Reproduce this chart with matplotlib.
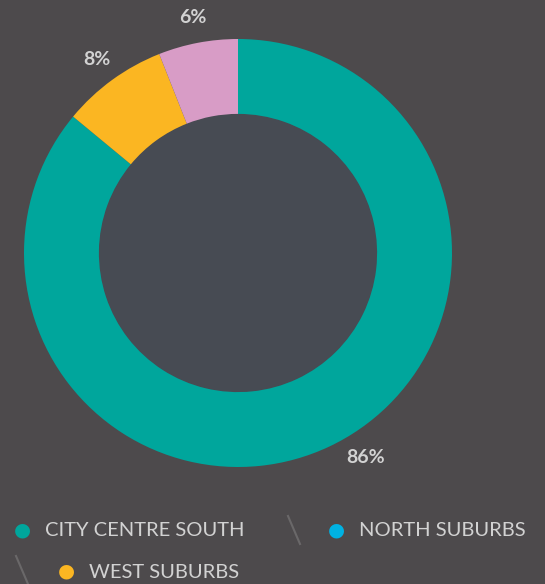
import matplotlib
matplotlib.use('Agg')
import matplotlib.pyplot as plt
from matplotlib.patches import Circle

# data
shares = [86, 8, 6]
slice_colors = ['#00a69c', '#fbb622', '#d89cc6']
legend_names = ['CITY CENTRE SOUTH', 'NORTH SUBURBS', 'WEST SUBURBS']
legend_colors = ['#00a69c', '#00b2e3', '#fbb622']

bg = '#4d4a4c'
inner = '#474b53'
txt = '#d2d2d2'

W, H = 545, 584
fig = plt.figure(figsize=(W / 100, H / 100), dpi=100, facecolor=bg)

# donut
cx, cy, r = 238, 253, 214
ax = fig.add_axes([(cx - r) / W, (H - cy - r) / H, 2 * r / W, 2 * r / H])
ax.set_facecolor(bg)
wedges, texts = ax.pie(shares, colors=slice_colors, startangle=90, counterclock=False,
                       radius=1, wedgeprops=dict(width=0.35, linewidth=0),
                       labels=[f'{v}%' for v in shares], labeldistance=1.12,
                       textprops=dict(color=txt, fontsize=14, fontweight='bold',
                                      family='Lato', ha='center', va='center'))
# the big slice's label sits a little further round in the original
tx, ty = texts[0].get_position()
texts[0].set_position((tx + 0.12, ty + 0.06))
ax.add_patch(Circle((0, 0), 0.65, color=inner, zorder=0))
ax.set_xlim(-1, 1)
ax.set_ylim(-1, 1)
ax.set_aspect('equal')
ax.axis('off')

# legend (custom layout with separators)
rows = [(530, [(22, 0), (336, 1)]), (571, [(66, 2)])]
for y, items in rows:
    for x, i in items:
        fig.text(x / W, 1 - y / H, '\u25CF', color=legend_colors[i], fontsize=14,
                 ha='center', va='center')
        fig.text((x + 23) / W, 1 - (y + 1) / H, legend_names[i], color=txt, fontsize=14.5,
                 family='Lato', ha='left', va='center')

# slash separators
for x, y in [(294, 530), (22, 570)]:
    fig.add_artist(plt.Line2D([(x - 6) / W, (x + 6) / W], [1 - (y - 14) / H, 1 - (y + 14) / H],
                              color='#6a6869', linewidth=1.5))

plt.savefig('out.png', dpi=100, facecolor=bg)
plt.close()
